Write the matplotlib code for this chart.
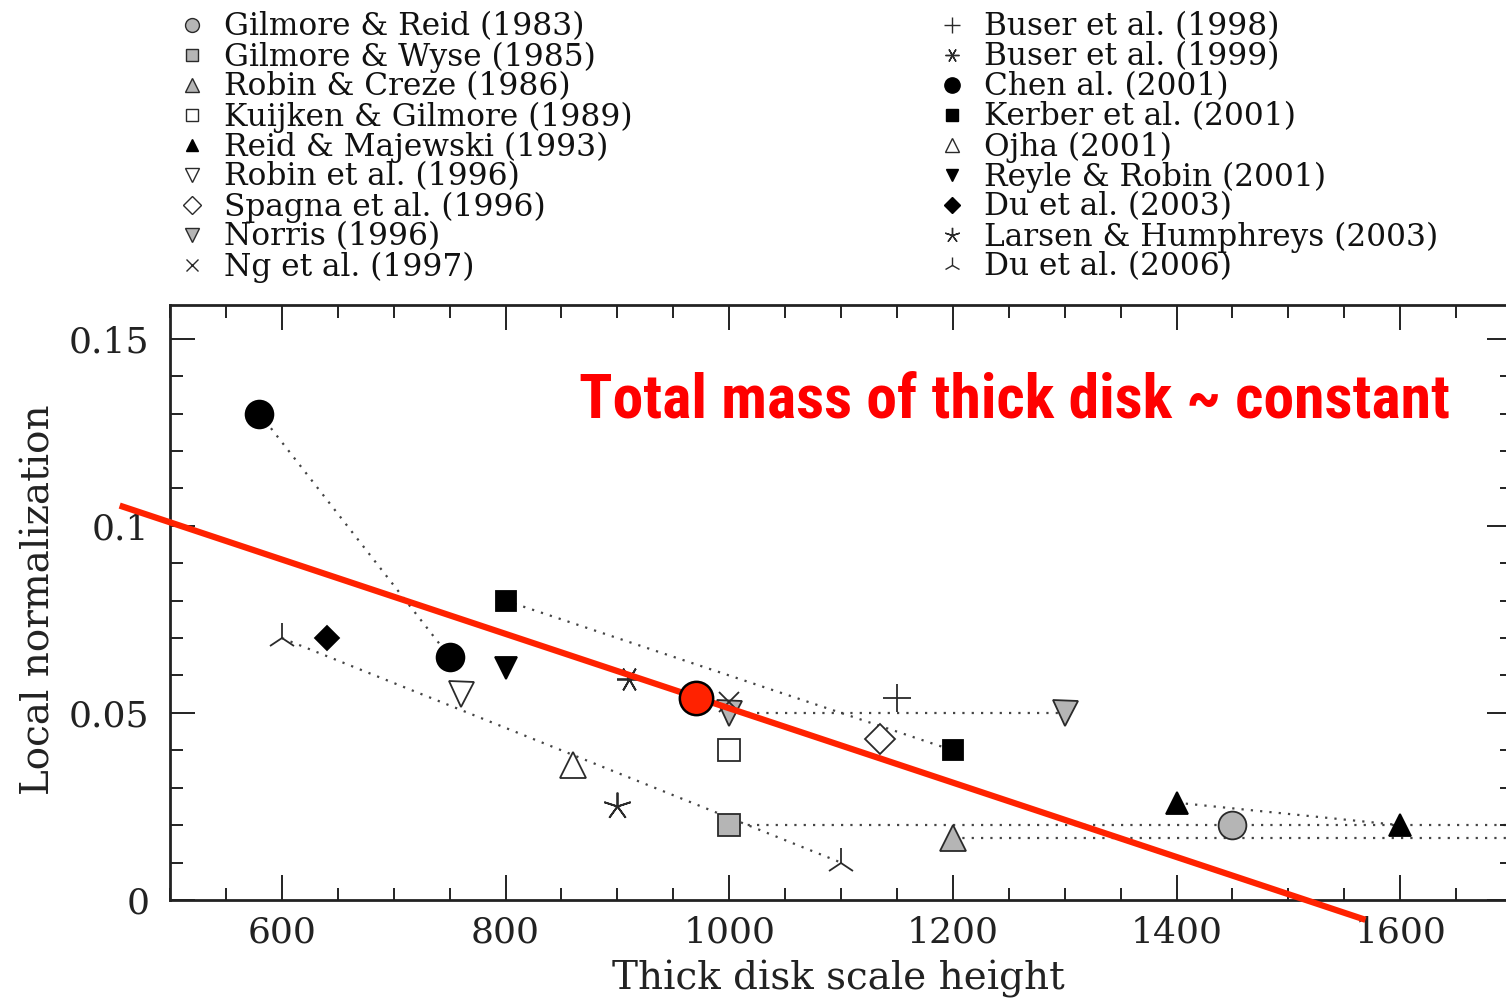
import matplotlib
matplotlib.use('Agg')
import matplotlib.pyplot as plt
from matplotlib.lines import Line2D
from matplotlib.ticker import MultipleLocator, FuncFormatter
from matplotlib import font_manager

# ---- data (scale height, local normalization) ----
gr83_x, gr83_y = [1450], [0.020]
gw85_x, gw85_y = [1000], [0.020]
gw85_range = [1000, 1800]
rc86_x, rc86_y = [1200], [0.0165]
rc86_range = [1200, 1800]
kg89_x, kg89_y = [1000], [0.040]
rm93_x, rm93_y = [1400, 1600], [0.026, 0.020]
robin96_x, robin96_y = [760], [0.055]
spagna96_x, spagna96_y = [1135], [0.043]
norris96_x, norris96_y = [1000, 1300], [0.050, 0.050]
ng97_x, ng97_y = [1000], [0.053]
buser98_x, buser98_y = [1150], [0.054]
buser99_x, buser99_y = [910], [0.059]
chen01_x, chen01_y = [580, 750], [0.130, 0.065]
kerber01_x, kerber01_y = [800, 1200], [0.080, 0.040]
ojha01_x, ojha01_y = [860], [0.036]
reyle01_x, reyle01_y = [800], [0.062]
du03_x, du03_y = [640], [0.070]
larsen03_x, larsen03_y = [900], [0.025]
du06_x, du06_y = [600, 1100], [0.070, 0.010]

# this work + constant-mass trend
red_x, red_y = [970], [0.054]
trend_x, trend_y = [455, 1569], [0.1054, -0.0053]

GRAY = '#b5b5b5'
EDGE = '#2a2a2a'

# label, x, y, marker, facecolor, plot size, legend size
series = [
    ('Gilmore & Reid (1983)', gr83_x, gr83_y, 'o', GRAY, 20, 10),
    ('Gilmore & Wyse (1985)', gw85_x, gw85_y, 's', GRAY, 16, 8),
    ('Robin & Creze (1986)', rc86_x, rc86_y, '^', GRAY, 19, 10),
    ('Kuijken & Gilmore (1989)', kg89_x, kg89_y, 's', 'white', 16, 8),
    ('Reid & Majewski (1993)', rm93_x, rm93_y, '^', 'black', 16, 9),
    ('Robin et al. (1996)', robin96_x, robin96_y, 'v', 'white', 18, 10),
    ('Spagna et al. (1996)', spagna96_x, spagna96_y, 'D', 'white', 15, 9),
    ('Norris (1996)', norris96_x, norris96_y, 'v', GRAY, 18, 10),
    ('Ng et al. (1997)', ng97_x, ng97_y, 'x', 'none', 15, 9),
    ('Buser et al. (1998)', buser98_x, buser98_y, '+', 'none', 20, 11),
    ('Buser et al. (1999)', buser99_x, buser99_y, (6, 2, 90), 'none', 18, 10),
    ('Chen al. (2001)', chen01_x, chen01_y, 'o', 'black', 20, 11),
    ('Kerber et al. (2001)', kerber01_x, kerber01_y, 's', 'black', 14, 8),
    ('Ojha (2001)', ojha01_x, ojha01_y, '^', 'white', 19, 10),
    ('Reyle & Robin (2001)', reyle01_x, reyle01_y, 'v', 'black', 16, 9),
    ('Du et al. (2003)', du03_x, du03_y, 'D', 'black', 12, 8),
    ('Larsen & Humphreys (2003)', larsen03_x, larsen03_y, (5, 2, 0), 'none', 20, 11),
    ('Du et al. (2006)', du06_x, du06_y, '2', 'none', 22, 12),
]

# dotted connections between estimates of the same study
links = [
    (chen01_x, chen01_y),
    (kerber01_x, kerber01_y),
    (du06_x, du06_y),
    (norris96_x, norris96_y),
    (rm93_x, rm93_y),
    (gw85_range, gw85_y * 2),
    (rc86_range, rc86_y * 2),
]

serif = 'DejaVu Serif'
narrow = None
for name in ['Liberation Sans Narrow', 'Roboto Condensed', 'DejaVu Sans Condensed',
             'Open Sans Condensed', 'Noto Sans Condensed']:
    try:
        font_manager.findfont(name, fallback_to_default=False)
        narrow = name
        break
    except Exception:
        pass
if narrow is None:
    narrow = 'Roboto'
plt.rcParams['font.family'] = serif

fig = plt.figure(figsize=(15.06, 9.99), dpi=100)
ax = fig.add_axes([170 / 1506, 1 - 900 / 999, (1512 - 170) / 1506, (900 - 305) / 999])

for lx, ly in links:
    ax.plot(lx, ly, linestyle=(0, (1, 3.2)), color='#444444', lw=1.6, zorder=1)

for label, x, y, m, fc, ms, _ in series:
    ec = 'black' if fc == 'black' else EDGE
    ax.plot(x, y, linestyle='none', marker=m, ms=ms, mfc=fc, mec=ec, mew=1.3, zorder=3)

ax.plot(trend_x, trend_y, color='#ff2200', lw=4.5, clip_on=False, zorder=4,
        solid_capstyle='butt')
ax.plot(red_x, red_y, 'o', ms=24, mfc='#ff2200', mec='black', mew=1.8, zorder=5)

ax.set_xlim(500, 1700)
ax.set_ylim(0, 0.159)
ax.xaxis.set_major_locator(MultipleLocator(200))
ax.xaxis.set_minor_locator(MultipleLocator(50))
ax.yaxis.set_major_locator(MultipleLocator(0.05))
ax.yaxis.set_minor_locator(MultipleLocator(0.01))
ax.yaxis.set_major_formatter(FuncFormatter(lambda v, p: f'{v:g}'))
ax.tick_params(which='both', direction='in', top=True, right=True, width=1.4,
               colors='#222222', labelsize=26)
ax.tick_params(which='major', length=18, pad=11)
ax.tick_params(which='minor', length=9)
ax.tick_params(axis='y', pad=15)
for s in ax.spines.values():
    s.set_linewidth(2)
    s.set_color('#222222')

ax.set_xlabel('Thick disk scale height', fontsize=28, color='#222222')
ax.xaxis.set_label_coords(0.498, -0.1)
ax.set_ylabel('Local normalization', fontsize=28, color='#222222')
ax.yaxis.set_label_coords(-0.084, 0.504)

title = fig.text(1450 / 1506, 1 - 401 / 999, 'Total mass of thick disk ~ constant',
                 family=narrow, weight='bold', color='#ff0000', fontsize=50,
                 ha='right', va='center')
# shrink the note until it fits the span it has in the original
renderer = fig.canvas.get_renderer()
w = title.get_window_extent(renderer).width
if w > 870:
    title.set_fontsize(50 * 870 / w)

# legend in two columns above the axes
for i, (label, x, y, m, fc, ms, lms) in enumerate(series):
    col, row = divmod(i, 9)
    mx = (192 if col == 0 else 952) / 1506
    tx = (224 if col == 0 else 984) / 1506
    yy = 1 - (25 + 30 * row) / 999
    ec = 'black' if fc == 'black' else EDGE
    fig.add_artist(Line2D([mx], [yy], transform=fig.transFigure, marker=m, ms=lms,
                          mfc=fc, mec=ec, mew=1.0, linestyle='none'))
    fig.text(tx, yy - 2 / 999, label, fontsize=22.5, ha='left', va='center',
             color='#111111')

fig.savefig('out.png', dpi=100)
